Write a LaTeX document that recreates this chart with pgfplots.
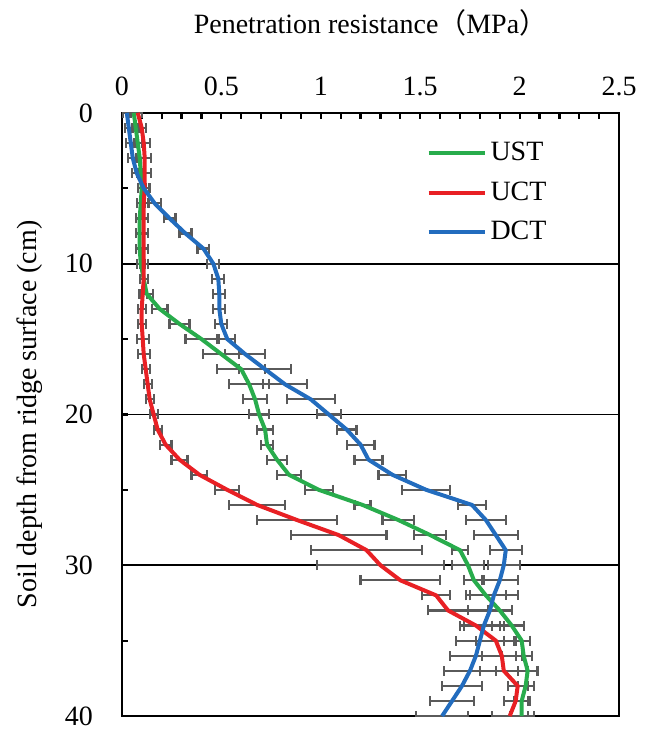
\documentclass[border=0pt]{standalone}
\usepackage{pgfplots}
\pgfplotsset{compat=1.18}
\usepackage{pgfplotstable}
\usepackage{fontspec}
\setmainfont{Liberation Serif}
\newfontfamily\cjk{Noto Sans CJK SC}

\definecolor{ustgreen}{RGB}{40,172,76}
\definecolor{uctred}{RGB}{232,32,36}
\definecolor{dctblue}{RGB}{34,108,190}
\definecolor{errgray}{RGB}{90,90,90}

% depth (cm), mean (MPa), error
\pgfplotstableread{
y x e
0 0.06 0.02
1 0.07 0.02
2 0.08 0.02
3 0.09 0.02
4 0.095 0.02
5 0.10 0.02
6 0.095 0.02
7 0.09 0.02
8 0.09 0.02
9 0.09 0.02
10 0.095 0.02
11 0.11 0.02
12 0.125 0.03
13 0.19 0.04
14 0.29 0.05
15 0.40 0.08
16 0.50 0.09
17 0.60 0.12
18 0.64 0.10
19 0.67 0.06
20 0.69 0.05
21 0.72 0.04
22 0.73 0.03
23 0.78 0.05
24 0.84 0.06
25 0.99 0.07
26 1.21 0.04
27 1.39 0.08
28 1.55 0.08
29 1.70 0.04
30 1.74 0.08
31 1.77 0.05
32 1.83 0.10
33 1.90 0.06
34 1.96 0.06
35 2.01 0.04
36 2.02 0.04
37 2.04 0.05
38 2.03 0.04
39 2.01 0.04
40 2.01 0.06
}\ust

\pgfplotstableread{
y x e
0 0.08 0.02
1 0.10 0.02
2 0.11 0.03
3 0.115 0.03
4 0.115 0.03
5 0.115 0.02
6 0.11 0.02
7 0.11 0.02
8 0.11 0.02
9 0.11 0.02
10 0.11 0.02
11 0.11 0.02
12 0.105 0.02
13 0.10 0.02
14 0.10 0.02
15 0.105 0.03
16 0.11 0.03
17 0.12 0.02
18 0.13 0.02
19 0.14 0.02
20 0.16 0.02
21 0.18 0.02
22 0.22 0.03
23 0.29 0.04
24 0.39 0.04
25 0.53 0.06
26 0.68 0.14
27 0.88 0.20
28 1.09 0.24
29 1.23 0.28
30 1.30 0.32
31 1.40 0.20
32 1.58 0.07
33 1.64 0.10
34 1.78 0.08
35 1.88 0.10
36 1.91 0.10
37 1.92 0.12
38 1.99 0.05
39 1.98 0.06
40 1.95 0.09
}\uct

\pgfplotstableread{
y x e
0 0.025 0.02
1 0.035 0.02
2 0.045 0.025
3 0.055 0.025
4 0.075 0.025
5 0.11 0.03
6 0.165 0.03
7 0.24 0.03
8 0.32 0.03
9 0.41 0.03
10 0.46 0.03
11 0.485 0.03
12 0.49 0.03
13 0.49 0.03
14 0.50 0.03
15 0.53 0.04
16 0.62 0.10
17 0.72 0.13
18 0.82 0.11
19 0.95 0.12
20 1.04 0.06
21 1.13 0.05
22 1.20 0.07
23 1.24 0.07
24 1.36 0.07
25 1.53 0.12
26 1.76 0.07
27 1.83 0.10
28 1.88 0.11
29 1.93 0.08
30 1.92 0.08
31 1.90 0.09
32 1.87 0.12
33 1.85 0.11
34 1.82 0.10
35 1.80 0.12
36 1.78 0.13
37 1.75 0.13
38 1.71 0.10
39 1.66 0.11
40 1.61 0.13
}\dct

\begin{document}
\begin{tikzpicture}
\begin{axis}[
    scale only axis,
    width=249pt, height=302pt,
    xmin=0, xmax=2.5, ymin=0, ymax=40,
    y dir=reverse,
    axis line style={black, line width=1.1pt},
    xtick={0,0.5,...,2.5},
    minor x tick num=4,
    xtick pos=upper, xticklabel pos=upper,
    ytick={0,10,20,30,40},
    minor ytick={5,15,25,35},
    ytick pos=left,
    tick align=inside,
    major tick length=3pt, minor tick length=3pt,
    tick style={black, line width=1.1pt},
    ymajorgrids,
    major grid style={black, line width=0.9pt},
    font=\fontsize{14}{16}\selectfont,
    ticklabel style={font=\fontsize{14}{16}\selectfont},
    xticklabel style={yshift=5pt},
    yticklabel style={xshift=-11pt},
    /pgf/number format/assume math mode=true,
    xlabel={Penetration resistance{\cjk （}MPa{\cjk ）}},
    ylabel={Soil depth from ridge surface (cm)},
    xlabel style={at={([yshift=45pt]axis description cs:0.5,1)}, anchor=center},
    ylabel style={at={([xshift=-46pt]axis description cs:0,0.5)}, anchor=center},
    legend style={draw=none, fill=none, at={(0.6,0.965)}, anchor=north west,
        font=\fontsize{14}{16}\selectfont, row sep=5pt},
    legend cell align=left,
    legend image code/.code={\draw[#1, line width=2pt] (0pt,0pt) -- (28pt,0pt);},
    error bars/error mark=|,
    error bars/error bar style={draw=errgray, line width=1.1pt},
    error bars/error mark options={draw=errgray, line width=1.1pt, mark size=2.5pt},
]
% error bars underneath the lines
\addplot[draw=none, mark=none, forget plot, error bars/.cd, x dir=both, x explicit]
    table[x=x, y=y, x error=e] {\ust};
\addplot[draw=none, mark=none, forget plot, error bars/.cd, x dir=both, x explicit]
    table[x=x, y=y, x error=e] {\uct};
\addplot[draw=none, mark=none, forget plot, error bars/.cd, x dir=both, x explicit]
    table[x=x, y=y, x error=e] {\dct};

\addplot[ustgreen, line width=2pt, mark=none] table[x=x, y=y] {\ust};
\addlegendentry{UST}
\addplot[uctred, line width=2pt, mark=none] table[x=x, y=y] {\uct};
\addlegendentry{UCT}
\addplot[dctblue, line width=2pt, mark=none] table[x=x, y=y] {\dct};
\addlegendentry{DCT}
\end{axis}
\pgfresetboundingbox
\path ([xshift=-61pt,yshift=-7.5pt]current axis.south west)
    rectangle ([xshift=15.5pt,yshift=56.5pt]current axis.north east);
\end{tikzpicture}
\end{document}
